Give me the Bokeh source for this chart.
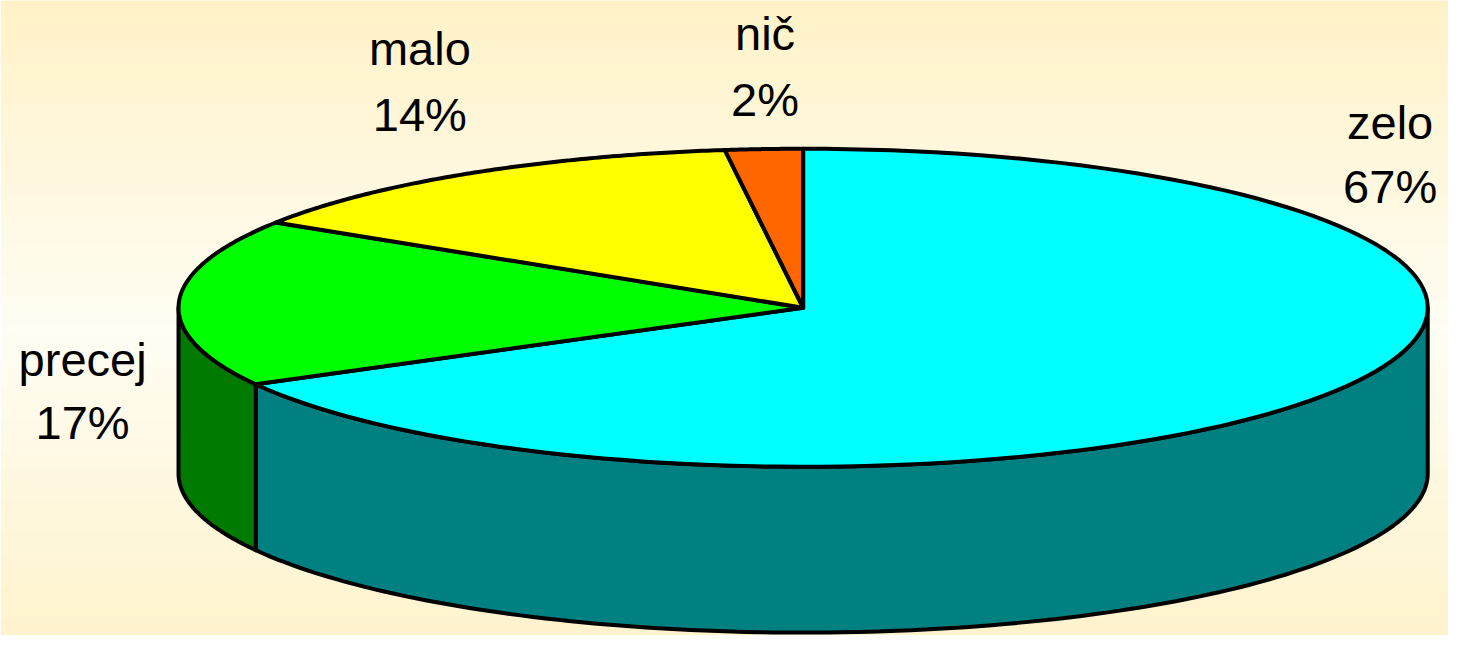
import numpy as np
from bokeh.plotting import figure
from bokeh.models import Range1d
from bokeh.core.properties import value
from bokeh.embed import file_html
from bokeh.resources import INLINE

# ---- data ----
categories = ["zelo", "precej", "malo", "nič"]
values = [67, 17, 14, 2]
pct_labels = ["67%", "17%", "14%", "2%"]

# ---- styles / layout ----
top_colors = ["#00FFFF", "#00FF00", "#FFFF00", "#FF6600"]
side_colors = ["#008080", "#007A00", "#808000", "#803300"]
label_x = [1405, 83, 424, 773]
label_y1 = [141, 384, 65, 50]
label_y2 = [207, 449, 133, 117]
BASE_FIX = -16  # compensate renderer baseline placement

W, H = 1464, 651
CX, CY, RX, RY, DEPTH = 811.5, 315.0, 631.5, 163.0, 170.0

p = figure(width=1448, height=635, x_range=Range1d(0, W), y_range=Range1d(H, 0),
           output_backend="svg", toolbar_location=None, min_border=0)
p.axis.visible = False
p.grid.visible = False
p.outline_line_color = None

# background gradient (yellowish top/bottom, lighter middle)
def lerp(c0, c1, t):
    return tuple(int(round(a + (b - a) * t)) for a, b in zip(c0, c1))

c_top = (255, 242, 199)
c_mid = (255, 253, 244)
c_bot = (254, 243, 204)
n = 80
tops, bots, cols = [], [], []
for i in range(n):
    y0 = H * i / n
    y1 = H * (i + 1) / n
    ym = (y0 + y1) / 2
    if ym < 340:
        c = lerp(c_top, c_mid, ym / 340)
    else:
        c = lerp(c_mid, c_bot, (ym - 340) / (H - 340))
    tops.append(y0 - 0.5)
    bots.append(y1 + 0.5)
    cols.append("#%02x%02x%02x" % c)
p.quad(left=0, right=W, top=tops, bottom=bots, fill_color=cols, line_color=None)


def arc(a0, a1, dy=0.0, npts=120):
    th = np.radians(np.linspace(a0, a1, npts))
    return list(CX + RX * np.cos(th)), list(CY - RY * np.sin(th) + dy)


total = float(sum(values))
start = 90.0
slices = []
for v in values:
    end = start - v / total * 360.0
    slices.append((start, end))
    start = end

# side walls (front half: angles between -180 and 0)
wx, wy, wc = [], [], []
for (s, e), col in zip(slices, side_colors):
    lo, hi = max(e, -180.0), min(s, 0.0)
    if lo < hi:
        tx, ty = arc(lo, hi)
        bx, by = arc(hi, lo, DEPTH)
        wx.append(tx + bx)
        wy.append(ty + by)
        wc.append(col)
p.patches(wx, wy, fill_color=wc, line_color="black", line_width=4, line_join="round")

# top faces
fx, fy = [], []
for (s, e) in slices:
    ax_, ay_ = arc(s, e)
    fx.append([CX] + ax_)
    fy.append([CY] + ay_)
p.patches(fx, fy, fill_color=top_colors, line_color="black", line_width=4, line_join="round")

# labels
font = value("Liberation Sans")
y1 = [v + BASE_FIX for v in label_y1]
y2 = [v + BASE_FIX for v in label_y2]
p.text(x=label_x, y=y1, text=categories, text_font=font, text_font_size="47px",
       text_align="center", text_baseline="alphabetic", text_color="black")
p.text(x=label_x, y=y2, text=pct_labels, text_font=font, text_font_size="47px",
       text_align="center", text_baseline="alphabetic", text_color="black")

open("out.html", "w").write(file_html(p, INLINE))
